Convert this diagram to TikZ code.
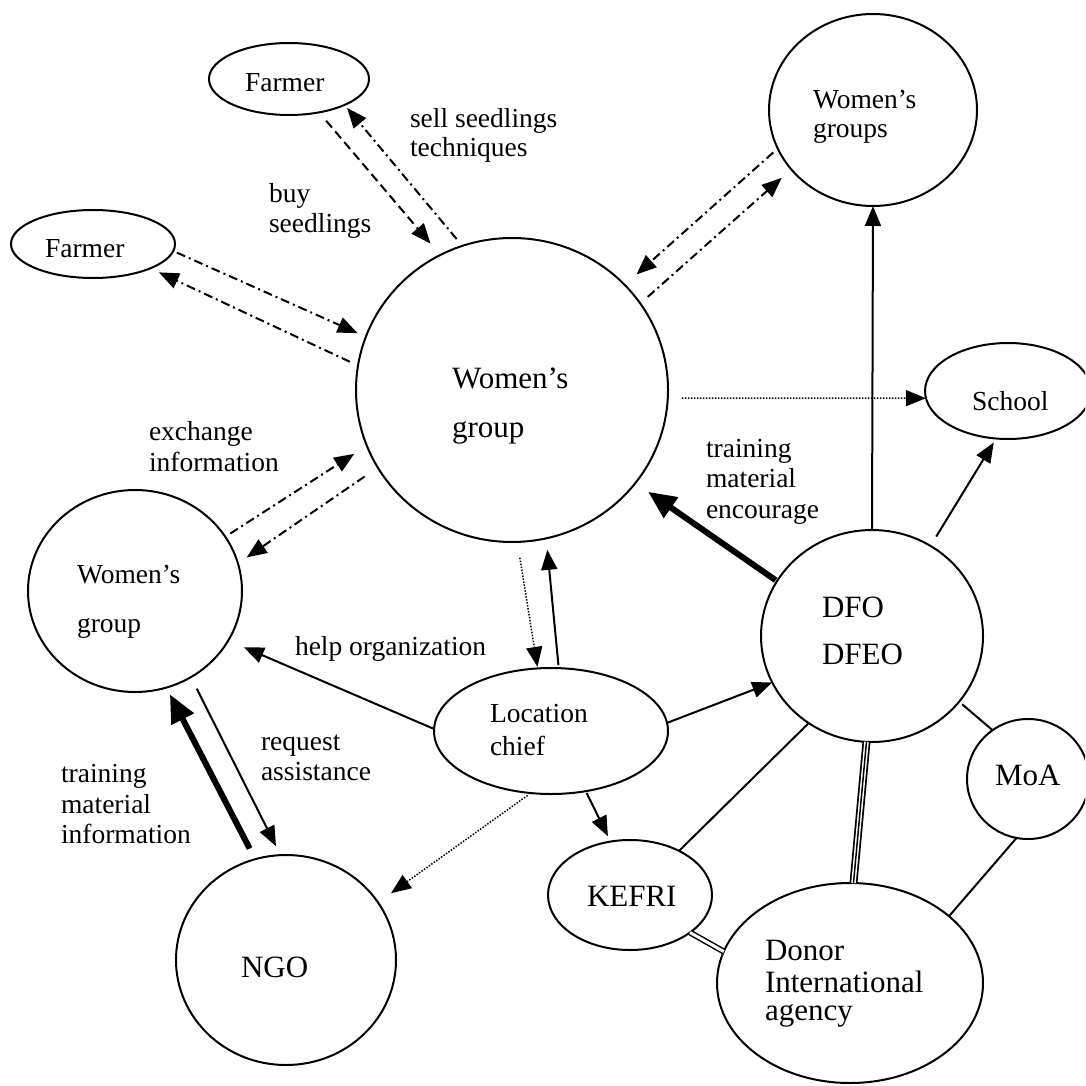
\documentclass[tikz,border=0pt]{standalone}
\usepackage{fontspec}
\setmainfont{Liberation Serif}
\usetikzlibrary{shapes.geometric,arrows.meta}

\begin{document}
\begin{tikzpicture}[x=1pt,y=-1pt,
  every node/.style={inner sep=0pt, outer sep=0pt},
  oval/.style={draw, ellipse, line width=2pt},
  txt/.style={anchor=base west, font=\fontsize{27.5}{30}\selectfont},
  bigtxt/.style={anchor=base west, font=\fontsize{31}{34}\selectfont},
  link/.style={line width=2pt},
  arr/.style={link, -{Triangle[length=20pt,width=16pt]}},
  heavy/.style={line width=6pt, -{Triangle[length=28pt,width=24pt]}},
  dashline/.style={dash pattern=on 9pt off 5pt},
  dashdot/.style={dash pattern=on 9pt off 4pt on 2pt off 4pt},
  dotline/.style={line width=1.5pt, dash pattern=on 1.5pt off 1.5pt},
  doubleline/.style={line width=1.5pt, double, double distance=3pt},
  tripleline/.style={line width=8pt,
    postaction={draw=white, line width=4.5pt},
    postaction={draw=black, line width=1.5pt}},
]
\useasboundingbox (0,0) rectangle (1085,1086);
\fill[white] (0,0) rectangle (1085,1086);
\clip (0,0) rectangle (1085,1086);

% actors
\node[oval, minimum width=160pt, minimum height=72pt]  (fT)  at (289,79)  {};
\node[oval, minimum width=164pt, minimum height=68pt]  (fL)  at (93,244)  {};
\node[oval, minimum width=312pt, minimum height=304pt] (wm)  at (512,390) {};
\node[oval, minimum width=208pt, minimum height=192pt] (wt)  at (873,110) {};
\node[oval, minimum width=166pt, minimum height=96pt]  (sc)  at (1008,391) {};
\node[oval, minimum width=222pt, minimum height=212pt] (dfo) at (872,636) {};
\node[oval, minimum width=122pt, minimum height=120pt] (moa) at (1028,779) {};
\node[oval, minimum width=266pt, minimum height=200pt] (don) at (850,983) {};
\node[oval, minimum width=164pt, minimum height=110pt] (kef) at (630,895) {};
\node[oval, minimum width=234pt, minimum height=126pt] (lc)  at (551,731) {};
\node[oval, minimum width=214pt, minimum height=202pt] (wl)  at (135,591) {};
\node[oval, minimum width=220pt, minimum height=210pt] (ngo) at (286,960) {};

% actor names
\node[txt] (tFT)  at (245,92)  {Farmer};
\node[txt] (tFL)  at (45,257)  {Farmer};
\node[bigtxt] (tWM1) at (452,388) {Women’s};
\node[bigtxt] (tWM2) at (452,437) {group};
\node[txt] (tWT1) at (813,109) {Women’s};
\node[txt] (tWT2) at (813,138) {groups};
\node[txt] (tSC)  at (972,410) {School};
\node[bigtxt] (tDF1) at (822,617) {DFO};
\node[bigtxt] (tDF2) at (822,664) {DFEO};
\node[bigtxt] (tMOA) at (995,785) {MoA};
\node[bigtxt] (tDO1) at (765,960) {Donor};
\node[bigtxt] (tDO2) at (765,992) {International};
\node[bigtxt] (tDO3) at (765,1020) {agency};
\node[bigtxt] (tKEF) at (587,906) {KEFRI};
\node[txt] (tLC1) at (490,722) {Location};
\node[txt] (tLC2) at (490,755) {chief};
\node[txt] (tWL1) at (77,583)  {Women’s};
\node[txt] (tWL2) at (77,632)  {group};
\node[bigtxt] (tNGO) at (241,977) {NGO};

% flow labels
\node[txt] (lSell1) at (410,128) {sell seedlings};
\node[txt] (lSell2) at (410,157) {techniques};
\node[txt] (lBuy1)  at (269,202) {buy};
\node[txt] (lBuy2)  at (269,232) {seedlings};
\node[txt] (lEx1)   at (149,440) {exchange};
\node[txt] (lEx2)   at (149,471) {information};
\node[txt] (lHelp)  at (295,655) {help organization};
\node[txt] (lTr1)   at (706,457) {training};
\node[txt] (lTr2)   at (706,487) {material};
\node[txt] (lTr3)   at (706,518) {encourage};
\node[txt] (lReq1)  at (261,750) {request};
\node[txt] (lReq2)  at (261,780) {assistance};
\node[txt] (lNg1)   at (61,782)  {training};
\node[txt] (lNg2)   at (61,813)  {material};
\node[txt] (lNg3)   at (61,843)  {information};

% farmers and the central group
\draw[arr, dashline, shorten <=11pt, shorten >=15pt] (fT.-48.6) -- (wm.118.4);
\draw[arr, dashdot, shorten <=9pt, shorten >=4pt] (wm.109.6) -- (fT.-25.8);
\draw[arr, dashdot, shorten <=4pt, shorten >=9pt] (fL.-5.4) -- (wm.160.5);
\draw[arr, dashdot, shorten <=9pt, shorten >=9.5pt] (wm.171.3) -- (fL.-23);

% other women's groups
\draw[arr, dashdot, shorten <=6pt, shorten >=15.7pt] (wt.202.8) -- (wm.43.6);
\draw[arr, dashdot, shorten <=10pt, shorten >=12.7pt] (wm.34.4) -- (wt.216.8);
\draw[arr, dashdot, shorten <=6pt, shorten >=15pt] (wl.31.4) -- (wm.201.9);
\draw[arr, dashdot, shorten <=16pt, shorten >=10.6pt] (wm.210.6) -- (wl.15.3);

% school and forestry office
\draw[arr, dotline, shorten <=14pt] (wm.-3) -- (sc.185.7);
\draw[arr] (dfo.north) -- (wt.south);
\draw[arr, shorten <=11pt, shorten >=4.6pt] (dfo.57.8) -- (sc.256);
\draw[heavy, shorten <=1.7pt, shorten >=15.4pt] (dfo.150.4) -- (wm.-37.3);

% location chief
\draw[arr, dotline, shorten <=16pt, shorten >=1.5pt] (wm.-88) -- (lc.102.3);
\draw[arr, shorten <=3pt, shorten >=11.6pt] (lc.83.9) -- (wm.-77.7);
\draw[arr, shorten >=17pt] (lc.179.5) -- (wl.-28.6);
\draw[arr] (lc.4.4) -- (dfo.205.2);
\draw[arr, shorten <=2pt, shorten >=6pt] (lc.-60.2) -- (kef.110.4);
\draw[arr, dotline, shorten <=4pt, shorten >=16pt] (lc.252.4) -- (ngo.32.5);

% NGO
\draw[heavy, shorten <=12pt, shorten >=7.6pt] (ngo.107.8) -- (wl.-72.4);
\draw[arr, shorten <=13pt, shorten >=10pt] (wl.-57) -- (ngo.93);

% institutional links
\draw[link] (dfo.234.3) -- (kef.42.1);
\draw[link, shorten <=4pt] (dfo.-37.5) -- (moa.126.9);
\draw[link] (moa.-101.5) -- (don.34.5);
\draw[tripleline] (dfo.-93.7) -- (don.88.9);
\draw[doubleline] (kef.-32.7) -- (don.166.5);
\end{tikzpicture}
\end{document}
